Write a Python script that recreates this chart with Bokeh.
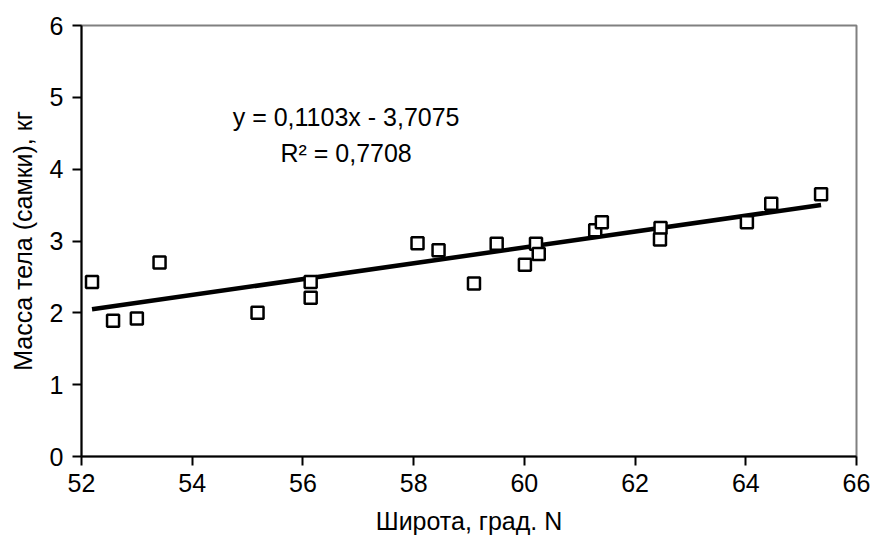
from bokeh.plotting import figure
from bokeh.models import ColumnDataSource, FixedTicker, Label
from bokeh.embed import file_html
from bokeh.resources import INLINE

# Data
latitude = [52.19, 52.57, 53.00, 53.41, 55.18, 56.14, 56.14, 58.07, 58.45, 59.09,
            59.50, 60.01, 60.21, 60.26, 61.28, 61.40, 62.46, 62.45, 64.02, 64.46, 65.36]
mass = [2.43, 1.89, 1.92, 2.70, 2.00, 2.43, 2.21, 2.97, 2.87, 2.41,
        2.96, 2.67, 2.96, 2.82, 3.15, 3.26, 3.18, 3.02, 3.26, 3.52, 3.65]
slope = 0.1103
intercept = -3.7075
eq_text = "y = 0,1103x - 3,7075"
r2_text = "R\u00b2 = 0,7708"
x_ticks = [52, 54, 56, 58, 60, 62, 64, 66]
y_ticks = [0, 1, 2, 3, 4, 5, 6]

FONT = "Liberation Sans"
FS = "25px"

p = figure(width=873, height=550, x_range=(52, 66), y_range=(0, 6),
           output_backend="svg", toolbar_location=None,
           min_border_left=81, min_border_right=17, min_border_top=25, min_border_bottom=94)

p.xgrid.visible = False
p.ygrid.visible = False
p.background_fill_color = "white"
p.border_fill_color = "white"
p.outline_line_color = "#808080"
p.outline_line_width = 2

for ax in (p.xaxis, p.yaxis):
    ax.axis_line_color = "black"
    ax.axis_line_width = 2
    ax.major_tick_line_color = "black"
    ax.major_tick_line_width = 2
    ax.major_tick_out = 9
    ax.major_tick_in = 0
    ax.minor_tick_line_color = None
    ax.major_label_text_font = FONT
    ax.major_label_text_font_size = FS
    ax.major_label_text_color = "black"
    ax.axis_label_text_font = FONT
    ax.axis_label_text_font_size = FS
    ax.axis_label_text_font_style = "normal"
    ax.axis_label_text_color = "black"

p.xaxis.ticker = FixedTicker(ticks=x_ticks)
p.yaxis.ticker = FixedTicker(ticks=y_ticks)
p.xaxis.axis_label = "Широта, град. N"
p.yaxis.axis_label = "Масса тела (самки), кг"
p.xaxis.major_label_standoff = 8
p.yaxis.major_label_standoff = 9
p.xaxis.axis_label_standoff = 12
p.yaxis.axis_label_standoff = 10

# trend line from min to max latitude
x0, x1 = min(latitude), max(latitude)
p.line([x0, x1], [slope * x0 + intercept, slope * x1 + intercept],
       line_color="black", line_width=4.5)

src = ColumnDataSource(dict(x=latitude, y=mass))
p.scatter("x", "y", source=src, marker="square", size=12,
          fill_color="white", line_color="black", line_width=2.5)

p.add_layout(Label(x=56.78, y=4.73, text=eq_text, text_align="center",
                   text_baseline="alphabetic", text_font=FONT, text_font_size=FS,
                   text_color="black"))
p.add_layout(Label(x=56.78, y=4.22, text=r2_text, text_align="center",
                   text_baseline="alphabetic", text_font=FONT, text_font_size=FS,
                   text_color="black"))

open("out.html", "w").write(file_html(p, INLINE))
